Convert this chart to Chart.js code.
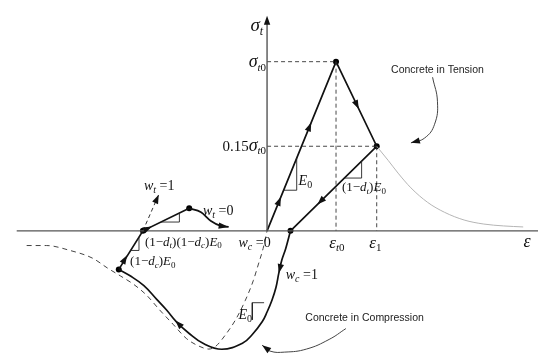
<!DOCTYPE html>
<html><head><meta charset="utf-8">
<script src="https://cdn.jsdelivr.net/npm/chart.js@4.4.0/dist/chart.umd.min.js"></script>
<style>html,body{margin:0;padding:0;background:#fff}canvas{display:block}</style>
</head><body>
<canvas id="c" width="542" height="359"></canvas>
<script>
// Units: strain in multiples of εt0, stress in multiples of σt0 (schematic)
const xRange = [-3.8143, 3.9286];
const yRange = [-0.7341, 1.3410];

const sigmaT0 = 1.0, epsT0 = 1.0;
const eps1 = 1.59, sigma1 = 0.50, epsUnload = 0.34;

const loadPath = [[0,0],[epsT0,sigmaT0],[eps1,sigma1],[epsUnload,0]];
const compressionPath = [[-2.15,-0.228],[-1.986,-0.266],[-1.786,-0.324],[-1.6,-0.405],[-1.457,-0.468],[-1.314,-0.538],[-1.129,-0.607],[-0.929,-0.665],[-0.657,-0.700],[-0.357,-0.665],[-0.214,-0.613],[-0.071,-0.538],[0,-0.480],[0.071,-0.410],[0.129,-0.335],[0.171,-0.249],[0.214,-0.173],[0.271,-0.104],[0.34,0]];
const compressionEnvelope = [[-3.486,-0.087],[-3.2,-0.087],[-2.857,-0.116],[-2.529,-0.162],[-2.314,-0.220],[-2.129,-0.266],[-1.929,-0.318],[-1.743,-0.382],[-1.557,-0.468],[-1.357,-0.555],[-1.171,-0.636],[-0.986,-0.682],[-0.843,-0.699],[-0.743,-0.682],[-0.6,-0.613],[-0.457,-0.526],[-0.314,-0.410],[-0.2,-0.295],[-0.129,-0.202],[-0.057,-0.104],[0,0]];
const reloadPath = [[-2.15,-0.228],[-1.8,0],[-1.129,0.133]];
const tensionRecovery = [[-1.129,0.133],[-0.957,0.110],[-0.814,0.058],[-0.671,0.029],[-0.557,0.023]];
const wt1Line = [[-1.8,0],[-1.571,0.214]];
const softening = [[1.59,0.5],[1.757,0.416],[1.9,0.341],[2.086,0.254],[2.329,0.168],[2.571,0.110],[2.857,0.064],[3.143,0.040],[3.429,0.029],[3.714,0.023]];
const keyPoints = [[epsT0,sigmaT0],[eps1,sigma1],[epsUnload,0],[-2.15,-0.228],[-1.8,0],[-1.129,0.133]];

const xAxisLine = [[-3.63,0],[3.93,0]];
const yAxisLine = [[0,0],[0,1.25]];
const guideLines = [
  [[0,sigmaT0],[epsT0,sigmaT0]], [[epsT0,sigmaT0],[epsT0,0]],
  [[0,sigma1],[eps1,sigma1]], [[eps1,sigma1],[eps1,0]]
];
const slopeMarks = [
  [[0.24,0.24],[0.43,0.24],[0.43,0.43]],
  [[1.12,0.312],[1.371,0.312],[1.371,0.413]],
  [[-1.984,-0.116],[-1.857,-0.116],[-1.857,-0.036]],
  [[-1.538,0.052],[-1.271,0.052],[-1.271,0.105]],
  [[-0.043,-0.425],[-0.214,-0.425],[-0.214,-0.526]]
];
const tensionPointer = [[2.4,0.908],[2.471,0.763],[2.429,0.630],[2.286,0.549],[2.086,0.520]];
const compressionPointer = [[1.143,-0.578],[0.9,-0.642],[0.571,-0.699],[0.257,-0.717],[0.043,-0.711],[-0.071,-0.676]];

// arrowheads: [tipX, tipY, fromX, fromY, length]
const arrows = [
  [0,1.272,0,1.0,9],
  [0.2,0.2,0,0,9],[0.64,0.64,0.3,0.3,9],
  [1.33,0.72,1.0,1.0,9],
  [0.73,0.156,1.59,0.5,9],
  [0.171,-0.249,0.214,-0.173,9],
  [-1.33,-0.53,-1.2,-0.585,9],
  [-2.029,-0.145,-2.15,-0.228,9],
  [-1.67,0.026,-1.8,0,9],
  [-0.557,0.023,-0.671,0.029,10],
  [-1.571,0.214,-1.8,0,9],
  [2.086,0.520,2.22,0.535,9],
  [-0.071,-0.676,0.043,-0.711,9]
];

const S = 'si', SR = 'sr';
const labels = [
  {x:-0.057,y:1.214,a:'right',parts:[['σ','i',19],['t',S,12]]},
  {x:-0.014,y:1.0,a:'right',parts:[['σ','i',18],['t',S,11],['0',SR,11]]},
  {x:-0.014,y:0.5,a:'right',parts:[['0.15','r',15],['σ','i',18],['t',S,11],['0',SR,11]]},
  {x:1.014,y:-0.069,a:'center',parts:[['ε','i',17],['t',S,11],['0',SR,11]]},
  {x:1.571,y:-0.069,a:'center',parts:[['ε','i',17],['1',SR,11]]},
  {x:3.771,y:-0.064,a:'center',parts:[['ε','i',18]]},
  {x:-0.414,y:-0.069,a:'left',parts:[['w','i',14],['c',S,10],[' =0','r',14]]},
  {x:0.271,y:-0.26,a:'left',parts:[['w','i',14],['c',S,10],[' =1','r',14]]},
  {x:-1.786,y:0.266,a:'left',parts:[['w','i',14],['t',S,10],[' =1','r',14]]},
  {x:-0.929,y:0.121,a:'left',parts:[['w','i',14],['t',S,10],[' =0','r',14]]},
  {x:0.457,y:0.295,a:'left',parts:[['E','i',14],['0',SR,10]]},
  {x:1.086,y:0.26,a:'left',parts:[['(1−','r',13],['d','i',13],['t',S,9],[')','r',13],['E','i',13],['0',SR,9]]},
  {x:-1.771,y:-0.064,a:'left',parts:[['(1−','r',13],['d','i',13],['t',S,9],[')(1−','r',13],['d','i',13],['c',S,9],[')','r',13],['E','i',13],['0',SR,9]]},
  {x:-1.986,y:-0.179,a:'left',parts:[['(1−','r',13],['d','i',13],['c',S,9],[')','r',13],['E','i',13],['0',SR,9]]},
  {x:-0.414,y:-0.497,a:'left',parts:[['E','i',14],['0',SR,10]]},
  {x:2.471,y:0.954,a:'center',sans:true,parts:[['Concrete in Tension','r',10.5]]},
  {x:1.414,y:-0.514,a:'center',sans:true,parts:[['Concrete in Compression','r',10.5]]}
];

const pts = a => a.map(p => ({x:p[0], y:p[1]}));
function line(data, color, width, opts) {
  return Object.assign({data:pts(data), showLine:true, borderColor:color, borderWidth:width,
    pointRadius:0, fill:false, tension:0}, opts||{});
}
const mono = {cubicInterpolationMode:'monotone'};

const datasets = [
  line(xAxisLine,'#555',1.4),
  line(yAxisLine,'#555',1.4),
  ...guideLines.map(g => line(g,'#333',0.9,{borderDash:[4,3]})),
  ...slopeMarks.map(g => line(g,'#222',0.9)),
  line(softening,'#b5b5b5',1,mono),
  line(compressionEnvelope,'#444',1,Object.assign({borderDash:[5,4]},mono)),
  line(wt1Line,'#333',1,{borderDash:[4,3]}),
  line(loadPath,'#111',1.7),
  line(compressionPath,'#111',1.7,{tension:0.4}),
  line(reloadPath,'#111',1.7),
  line(tensionRecovery,'#111',1.7,mono),
  line(tensionPointer,'#444',1,{tension:0.45}),
  line(compressionPointer,'#444',1,{tension:0.45}),
  {data:pts(keyPoints), showLine:false, pointRadius:3, pointBackgroundColor:'#000', pointBorderColor:'#000', pointBorderWidth:0}
];

const decor = {
  id:'decor',
  afterDatasetsDraw(chart){
    const ctx = chart.ctx, xs = chart.scales.x, ys = chart.scales.y;
    ctx.save();
    ctx.fillStyle = '#111';
    arrows.forEach(a => {
      const tx = xs.getPixelForValue(a[0]), ty = ys.getPixelForValue(a[1]);
      const fx = xs.getPixelForValue(a[2]), fy = ys.getPixelForValue(a[3]);
      const ang = Math.atan2(ty-fy, tx-fx), L = a[4], W = 3.2;
      ctx.beginPath();
      ctx.moveTo(tx, ty);
      ctx.lineTo(tx - L*Math.cos(ang) + W*Math.sin(ang), ty - L*Math.sin(ang) - W*Math.cos(ang));
      ctx.lineTo(tx - L*Math.cos(ang) - W*Math.sin(ang), ty - L*Math.sin(ang) + W*Math.cos(ang));
      ctx.closePath();
      ctx.fill();
    });
    labels.forEach(lab => {
      const px = xs.getPixelForValue(lab.x), py = ys.getPixelForValue(lab.y);
      const parts = lab.parts.map(p => {
        const sub = p[1][0] === 's', ital = p[1].endsWith('i');
        const fam = lab.sans ? '"Liberation Sans", Arial, sans-serif' : '"Liberation Serif", "Times New Roman", serif';
        const font = (ital ? 'italic ' : '') + p[2] + 'px ' + fam;
        ctx.font = font;
        return {t:p[0], font, sub, w:ctx.measureText(p[0]).width};
      });
      const total = parts.reduce((s,p) => s + p.w, 0);
      let x = lab.a === 'right' ? px - total : lab.a === 'center' ? px - total/2 : px;
      const fs = lab.parts[0][2];
      const base = py + fs*0.3;
      ctx.fillStyle = lab.sans ? '#222' : '#111';
      ctx.textBaseline = 'alphabetic';
      parts.forEach(p => {
        ctx.font = p.font;
        ctx.fillText(p.t, x, p.sub ? base + fs*0.22 : base);
        x += p.w;
      });
    });
    ctx.restore();
  }
};

new Chart(document.getElementById('c'), {
  type:'scatter',
  data:{datasets},
  options:{
    responsive:false, animation:false, devicePixelRatio:1,
    layout:{padding:0},
    plugins:{legend:{display:false}, tooltip:{enabled:false}},
    scales:{
      x:{type:'linear', min:xRange[0], max:xRange[1], display:false},
      y:{type:'linear', min:yRange[0], max:yRange[1], display:false}
    }
  },
  plugins:[decor]
});
</script>
</body></html>
